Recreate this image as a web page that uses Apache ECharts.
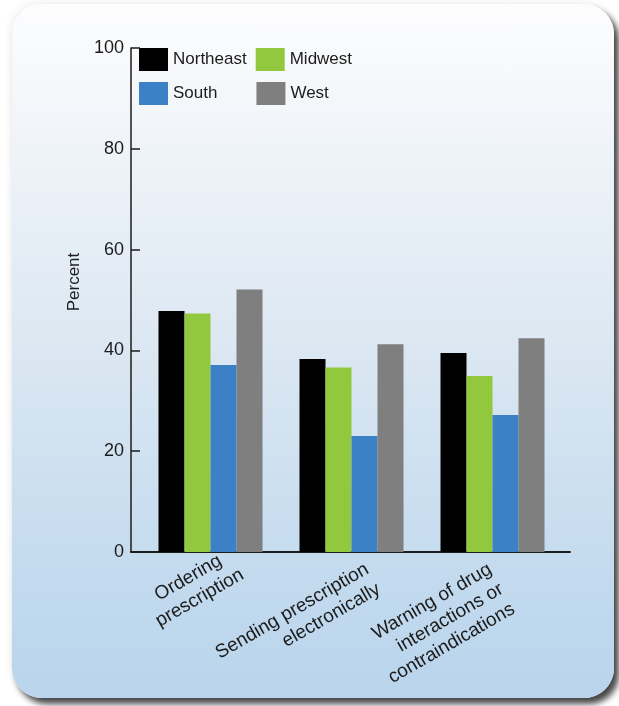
<!DOCTYPE html>
<html>
<head>
<meta charset="utf-8">
<script src="https://cdn.jsdelivr.net/npm/echarts@6/dist/echarts.min.js"></script>
<style>
  html, body { margin: 0; padding: 0; background: #ffffff; }
  #card {
    position: absolute; left: 12px; top: 4px; width: 602px; height: 694px;
    border-radius: 30px;
    background: linear-gradient(to bottom, #fdfdfe 0%, #f1f5f9 18%, #dbe7f2 50%, #c6dcef 78%, #b9d4ec 100%);
    box-shadow: 5px 6px 6px rgba(0,0,0,0.72), -2px -2px 8px rgba(0,0,0,0.06);
  }
  #chart { position: absolute; left: 0; top: 0; width: 619px; height: 706px; }
</style>
</head>
<body>
<div id="card"></div>
<div id="chart"></div>
<script>
// Share of practices using each e-prescribing function, by region
const categories = [
  'Ordering\nprescription',
  'Sending prescription\nelectronically',
  'Warning of drug\ninteractions or\ncontraindications'
];
const northeast = [47.8, 38.3, 39.5];
const midwest   = [47.3, 36.6, 34.9];
const south     = [37.1, 23.0, 27.2];
const west      = [52.1, 41.2, 42.4];
const yTicks = { min: 0, max: 100, step: 20 };

const FONT = '"Liberation Sans", Arial, Helvetica, sans-serif';
const INK = '#1c1c1c';

// Slanted category captions: anchor offset from each category's foot on the axis
const captionLayout = [
  { align: 'center', dx: -28, dy: 16 },
  { align: 'right',  dx: 10,  dy: 6 },
  { align: 'right',  dx: -8,  dy: 6 }
];

function barSeries(name, data, color) {
  return {
    name: name,
    type: 'bar',
    xAxisIndex: 0,
    yAxisIndex: 0,
    data: data,
    barWidth: 26,
    barGap: '0%',
    itemStyle: { color: color }
  };
}

const chart = echarts.init(document.getElementById('chart'), null, { renderer: 'canvas' });
chart.setOption({
  animation: false,
  backgroundColor: 'transparent',
  textStyle: { fontFamily: FONT },
  grid: [
    { left: 140, right: 56, top: 48, bottom: 154 },
    { left: 131, right: 49, top: 48, bottom: 154 }
  ],
  legend: [
    {
      data: ['Northeast', 'Midwest'],
      left: 139, top: 48, padding: 0,
      itemWidth: 29, itemHeight: 23, itemGap: 9,
      icon: 'rect', selectedMode: false,
      textStyle: { fontSize: 17, color: INK, fontFamily: FONT }
    },
    {
      data: ['South', 'West'],
      left: 139, top: 82, padding: 0,
      itemWidth: 29, itemHeight: 23, itemGap: 39,
      icon: 'rect', selectedMode: false,
      textStyle: { fontSize: 17, color: INK, fontFamily: FONT }
    }
  ],
  xAxis: [
    {
      type: 'category',
      gridIndex: 0,
      data: categories,
      axisLine: { show: false },
      axisTick: { show: false },
      axisLabel: { show: false }
    },
    {
      type: 'value',
      gridIndex: 1,
      min: 0, max: 1,
      axisLine: { show: true, lineStyle: { color: INK, width: 2 } },
      axisTick: { show: false },
      axisLabel: { show: false },
      splitLine: { show: false }
    }
  ],
  yAxis: [
    {
      type: 'value',
      gridIndex: 0,
      min: yTicks.min, max: yTicks.max, interval: yTicks.step,
      show: false
    },
    {
      type: 'value',
      gridIndex: 1,
      min: yTicks.min, max: yTicks.max, interval: yTicks.step,
      name: 'Percent',
      nameLocation: 'middle',
      nameGap: 48,
      nameTextStyle: { fontSize: 17, color: INK, fontFamily: FONT, padding: [0, 0, 0, 36] },
      axisLine: { show: true, lineStyle: { color: INK, width: 1.5 } },
      axisTick: { show: true, inside: true, length: 9, lineStyle: { color: INK, width: 1.5 } },
      axisLabel: { fontSize: 18, color: INK, margin: 7, fontFamily: FONT },
      splitLine: { show: false }
    }
  ],
  series: [
    barSeries('Northeast', northeast, '#000000'),
    barSeries('Midwest', midwest, '#92c83e'),
    barSeries('South', south, '#3c80c6'),
    barSeries('West', west, '#7f7f7f'),
    {
      // category captions, placed from each category's position on the axis
      type: 'custom',
      xAxisIndex: 0,
      yAxisIndex: 0,
      silent: true,
      clip: false,
      data: categories.map(function (c, i) { return [i, yTicks.min]; }),
      encode: { x: 0, y: 1 },
      renderItem: function (params, api) {
        const i = api.value(0);
        const foot = api.coord([i, yTicks.min]);
        const lay = captionLayout[i];
        return {
          type: 'text',
          x: foot[0] + lay.dx,
          y: foot[1] + lay.dy,
          rotation: Math.PI / 6,
          style: {
            text: categories[i],
            fill: INK,
            font: '19px ' + FONT,
            align: lay.align,
            verticalAlign: 'top',
            lineHeight: 23
          }
        };
      }
    }
  ]
});
</script>
</body>
</html>
